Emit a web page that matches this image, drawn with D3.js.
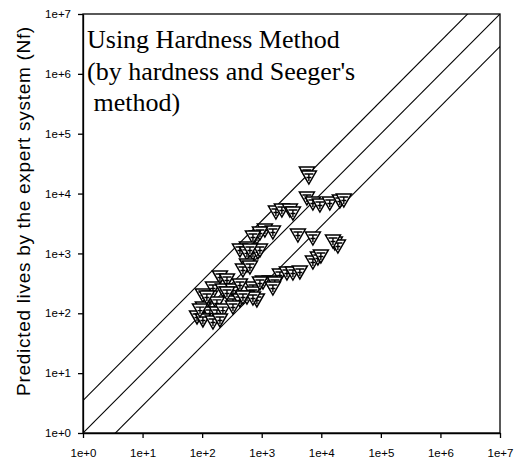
<!DOCTYPE html>
<html>
<head>
<meta charset="utf-8">
<script src="https://cdn.jsdelivr.net/npm/d3@7"></script>
<style>
  body { margin: 0; background: #fff; }
  svg { display: block; }
</style>
</head>
<body>
<script>
var expLives = [5730, 6190, 5730, 7230, 9480, 13900, 20500, 23900,
    1730, 2180, 2970, 3340, 4050, 7230, 16900, 19000, 15700,
    7230, 8770, 9840, 1130, 1540, 830, 933, 712, 565, 431, 712, 863, 565,
    565, 484, 933, 2020, 2650, 3340, 4370, 1370, 1050, 1660, 1540, 712,
    712, 830, 933, 199, 261, 152, 223, 329, 431, 565, 712, 103, 135, 177,
    103, 135, 177, 223, 82, 103, 152, 329, 431,
    634, 120, 92, 199, 329, 484, 634, 261];
var predLives = [22000, 18900, 8430, 6950, 6440, 6950, 7520, 7800,
    4920, 5310, 5310, 4730, 2030, 1810, 1490, 1330, 1610,
    719, 838, 906, 2460, 2280, 1880, 2190, 1880, 1230, 1140, 1020, 1060, 1020,
    641, 528, 1140, 436, 471, 471, 490, 333, 333, 321, 264, 264,
    218, 167, 321, 404, 360, 264, 245, 245, 297, 187, 180, 202, 187, 149,
    122, 101, 101, 113, 86.7, 77.3, 71.5, 154, 167,
    593, 187, 113, 77.3, 127, 187, 1140, 218];

var tickVals = [1, 10, 100, 1e3, 1e4, 1e5, 1e6, 1e7];
var tickLabels = ["1e+0", "1e+1", "1e+2", "1e+3", "1e+4", "1e+5", "1e+6", "1e+7"];
var bandFactors = [1 / 3.5, 1, 3.5];
var titleLines = ["Using Hardness Method", "(by hardness and Seeger's", " method)"];

var margin = { top: 14, right: 20, bottom: 32, left: 83 },
    width = 520 - margin.left - margin.right,
    height = 465 - margin.top - margin.bottom;

var svg = d3.select("body").append("svg")
    .attr("width", 520)
    .attr("height", 465)
    .append("g")
    .attr("transform", "translate(" + margin.left + "," + margin.top + ")");

var x = d3.scaleLog().domain([1, 1e7]).range([0, width]);
var y = d3.scaleLog().domain([1, 1e7]).range([height, 0]);

svg.append("clipPath").attr("id", "clip")
    .append("rect").attr("width", width).attr("height", height);

// frame
svg.append("rect")
    .attr("width", width).attr("height", height)
    .attr("fill", "none").attr("stroke", "#000").attr("stroke-width", 1.3);

// 1:1 line and scatter band
var line = d3.line()
    .x(function (d) { return x(d[0]); })
    .y(function (d) { return y(d[1]); });
svg.append("g").attr("clip-path", "url(#clip)")
    .selectAll("path")
    .data(bandFactors)
    .enter().append("path")
    .attr("d", function (k) { return line([[1e-2, 1e-2 * k], [1e9, 1e9 * k]]); })
    .attr("fill", "none").attr("stroke", "#000").attr("stroke-width", 1.1);

// axes
var fmt = function (d, i) { return tickLabels[i]; };
var gx = svg.append("g")
    .attr("transform", "translate(0," + height + ")")
    .call(d3.axisBottom(x).tickValues(tickVals).tickFormat(fmt).tickSize(5).tickSizeOuter(0));
var gy = svg.append("g")
    .call(d3.axisLeft(y).tickValues(tickVals).tickFormat(fmt).tickSize(5).tickSizeOuter(0));
[gx, gy].forEach(function (g) {
    g.select(".domain").attr("stroke-width", 1.3);
    g.selectAll("line").attr("stroke-width", 1.3);
    g.selectAll("text")
        .attr("font-family", "Liberation Sans, Arial, sans-serif")
        .attr("font-size", 11.5)
        .attr("fill", "#000");
});
gx.selectAll("text").attr("dy", "1.4em");
gy.selectAll("text").attr("x", -12);

// markers
var pts = expLives.map(function (v, i) { return [v, predLives[i]]; });
var mk = svg.append("g").attr("clip-path", "url(#clip)")
    .selectAll("g.pt")
    .data(pts)
    .enter().append("g")
    .attr("class", "pt")
    .attr("transform", function (d) { return "translate(" + x(d[0]) + "," + y(d[1]) + ")"; });
mk.append("path")
    .attr("d", "M-7.5,-6L7.5,-6L0,7Z")
    .attr("fill", "#fff").attr("stroke", "#000").attr("stroke-width", 1.5);
mk.append("path")
    .attr("d", "M-4.5,-3L4.5,-3M0,-3L0,4M-2.5,0.5L2.5,0.5")
    .attr("fill", "none").attr("stroke", "#000").attr("stroke-width", 1.4);

// annotation
svg.append("text")
    .attr("x", 4).attr("y", 34)
    .attr("font-family", "Liberation Serif, Times New Roman, serif")
    .attr("font-size", 26)
    .selectAll("tspan")
    .data(titleLines)
    .enter().append("tspan")
    .attr("x", 4)
    .attr("dy", function (d, i) { return i === 0 ? 0 : 31.5; })
    .attr("xml:space", "preserve")
    .style("white-space", "pre")
    .text(function (d) { return d; });

// y axis title
d3.select("svg").append("text")
    .attr("transform", "translate(30,211) rotate(-90)")
    .attr("text-anchor", "middle")
    .attr("font-family", "Liberation Sans, Arial, sans-serif")
    .attr("font-size", 19)
    .attr("letter-spacing", 0.7)
    .text("Predicted lives by the expert system (Nf)");
</script>
</body>
</html>
